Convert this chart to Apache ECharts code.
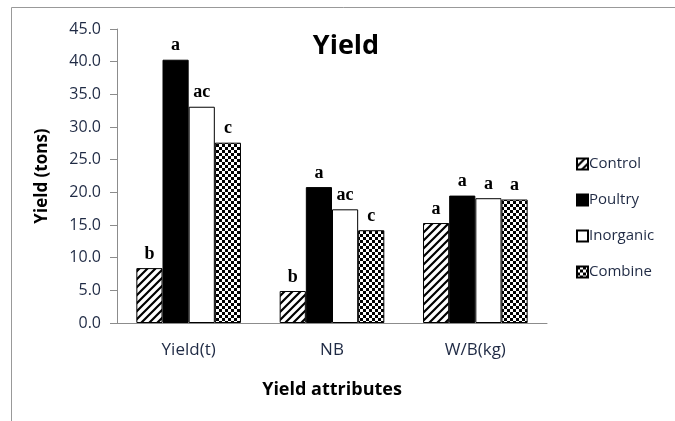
<!DOCTYPE html>
<html>
<head>
<meta charset="utf-8">
<script src="https://cdn.jsdelivr.net/npm/echarts@6/dist/echarts.min.js"></script>
<style>
  html, body { margin: 0; padding: 0; background: #fff; }
  #chart { width: 675px; height: 421px; }
</style>
</head>
<body>
<div id="chart"></div>
<script>
const categories = ['Yield(t)', 'NB', 'W/B(kg)']
const control = [8.4, 4.9, 15.3]
const poultry = [40.3, 20.8, 19.5]
const inorganic = [33.1, 17.4, 19.1]
const combine = [27.6, 14.2, 18.9]
const controlLetters = ['b', 'b', 'a']
const poultryLetters = ['a', 'a', 'a']
const inorganicLetters = ['ac', 'ac', 'a']
const combineLetters = ['c', 'c', 'a']

// fill patterns
function hatch() {
  const c = document.createElement('canvas')
  c.width = 8
  c.height = 8
  const ctx = c.getContext('2d')
  ctx.fillStyle = '#fff'
  ctx.fillRect(0, 0, 8, 8)
  ctx.strokeStyle = '#000'
  ctx.lineWidth = 2.2
  ctx.beginPath()
  ctx.moveTo(-2, 10); ctx.lineTo(10, -2)
  ctx.moveTo(-2, 2); ctx.lineTo(2, -2)
  ctx.moveTo(6, 10); ctx.lineTo(10, 6)
  ctx.stroke()
  return c
}
function checker() {
  const c = document.createElement('canvas')
  c.width = 6
  c.height = 6
  const ctx = c.getContext('2d')
  ctx.fillStyle = '#fff'
  ctx.fillRect(0, 0, 6, 6)
  ctx.fillStyle = '#000'
  ctx.fillRect(0, 0, 3, 3)
  ctx.fillRect(3, 3, 3, 3)
  return c
}

const chart = echarts.init(document.getElementById('chart'))

function bar(name, data, letters, fill) {
  return {
    name: name,
    type: 'bar',
    data: data,
    barGap: '0%',
    barCategoryGap: '27%',
    itemStyle: { color: fill, borderColor: '#000', borderWidth: 1 },
    label: {
      show: true,
      position: 'top',
      distance: 5,
      formatter: p => letters[p.dataIndex],
      fontFamily: 'Liberation Serif',
      fontWeight: 'bold',
      fontSize: 18,
      color: '#000'
    }
  }
}

chart.setOption({
  animation: false,
  title: {
    text: 'Yield',
    left: 341,
    top: 28,
    textAlign: 'center',
    textStyle: { fontFamily: 'Open Sans', fontWeight: 'bold', fontSize: 27, color: '#000' }
  },
  legend: {
    orient: 'vertical',
    left: 571,
    top: 149,
    itemWidth: 11,
    itemHeight: 11,
    itemGap: 16,
    icon: 'rect',
    textStyle: { fontFamily: 'Open Sans', fontSize: 15, lineHeight: 20, color: '#1f2a44', padding: [0, 0, 0, -4] },
    data: ['Control', 'Poultry', 'Inorganic', 'Combine']
  },
  grid: { left: 117, right: 128, top: 29, bottom: 98 },
  xAxis: {
    type: 'category',
    data: categories,
    name: 'Yield attributes',
    nameLocation: 'middle',
    nameGap: 58,
    nameTextStyle: { fontFamily: 'Open Sans', fontWeight: 'bold', fontSize: 18, color: '#000' },
    axisLine: { lineStyle: { color: '#8c8c8c' } },
    axisTick: { length: 7, lineStyle: { color: '#8c8c8c' } },
    axisLabel: { margin: 19, fontFamily: 'Open Sans', fontSize: 17, color: '#1f2a44' }
  },
  yAxis: {
    type: 'value',
    min: 0,
    max: 45,
    interval: 5,
    name: 'Yield (tons)',
    nameLocation: 'middle',
    nameGap: 66,
    nameTextStyle: { fontFamily: 'Open Sans', fontWeight: 'bold', fontSize: 17, color: '#000' },
    splitLine: { show: false },
    axisLine: { show: true, lineStyle: { color: '#8c8c8c' } },
    axisTick: { show: true, length: 7, lineStyle: { color: '#8c8c8c' } },
    axisLabel: { margin: 16, fontFamily: 'Open Sans', fontSize: 16, color: '#1f2a44', formatter: v => v.toFixed(1) }
  },
  graphic: [
    { type: 'line', shape: { x1: 11.5, y1: 7.5, x2: 675, y2: 7.5 }, style: { stroke: '#999', lineWidth: 1 } },
    { type: 'line', shape: { x1: 11.5, y1: 7.5, x2: 11.5, y2: 421 }, style: { stroke: '#999', lineWidth: 1 } }
  ],
  series: [
    bar('Control', control, controlLetters, { image: hatch(), repeat: 'repeat' }),
    bar('Poultry', poultry, poultryLetters, '#000'),
    bar('Inorganic', inorganic, inorganicLetters, '#fff'),
    bar('Combine', combine, combineLetters, { image: checker(), repeat: 'repeat' })
  ]
})
</script>
</body>
</html>
